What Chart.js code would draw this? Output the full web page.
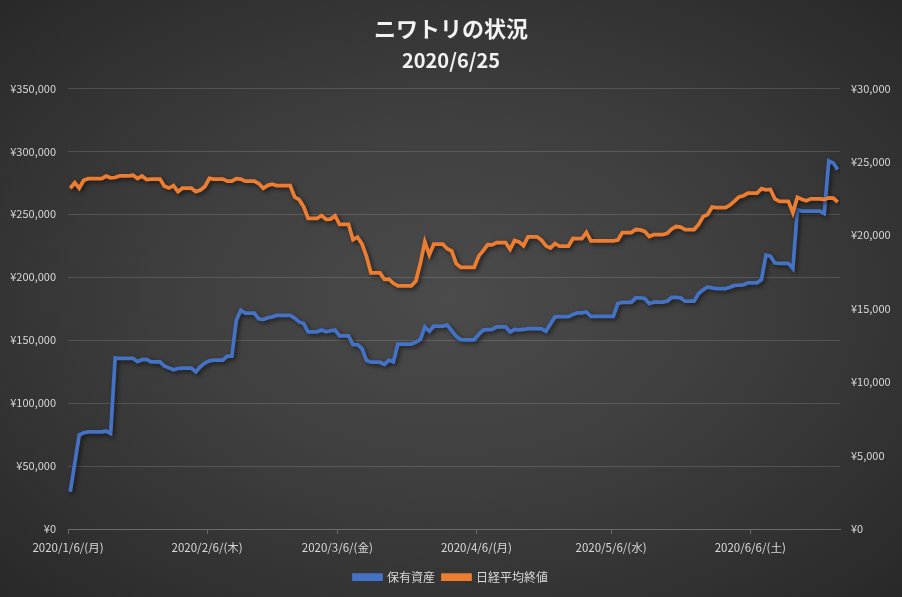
<!DOCTYPE html>
<html lang="ja">
<head>
<meta charset="utf-8">
<title>ニワトリの状況</title>
<script src="https://cdn.jsdelivr.net/npm/chart.js@4.4.1/dist/chart.umd.min.js"></script>
<style>
    html, body {
        margin: 0;
        padding: 0;
        background: #262626;
    }

    #wrap {
        width: 902px;
        height: 597px;
        background: radial-gradient(ellipse 75% 75% at 50% 50%, #4b4b4b 0%, #3f3f3f 40%, #262626 100%);
    }
</style>
</head>
<body>
<div id="wrap">
    <canvas id="chart"></canvas>
</div>

<script>
// daily values from 2020/1/6, non-trading days carry the last value
const startDate = "2020/1/6";

const assets = [
    // Jan 6-31
    29600, 52000, 74600, 76500, 77200, 77200, 77200, 77200, 77800, 75900,
    135800, 135500, 135500, 135500, 135500, 133000, 134500, 134700, 132800, 132800,
    132800, 129400, 128000, 126500, 127500, 127800,
    // Feb
    127800, 127800, 124800, 129000, 131800, 133600, 134100, 134100, 134100, 137300,
    137300, 165900, 173800, 171500, 171500, 171500, 167000, 166400, 167800, 168500,
    169600, 169600, 169600, 169600, 167500, 164500, 163300, 156600, 156600,
    // Mar
    156600, 158000, 156600, 157500, 158000, 153500, 153500, 153500, 146500, 146500,
    143400, 134000, 132500, 132500, 132500, 130700, 134100, 132800, 146800, 146800,
    146800, 146800, 148500, 150500, 160500, 157100, 161100, 161100, 161100, 161900,
    157500,
    // Apr
    153000, 150500, 150300, 150300, 150300, 154500, 158000, 158300, 158500, 160500,
    160500, 160500, 156600, 158500, 158200, 158500, 159200, 159200, 159200, 159000,
    157100, 163000, 168500, 168700, 168700, 168700, 170500, 171700, 171700, 172400,
    // May
    169000, 169000, 169000, 169000, 169000, 169000, 179100, 180000, 180000, 180000,
    183600, 183600, 183100, 179100, 180200, 180200, 180200, 181000, 184000, 184000,
    183600, 181000, 181000, 181000, 187000, 190000, 192300, 191500, 191000, 191000,
    191000,
    // Jun 1-25
    192000, 193500, 193700, 194000, 195500, 195500, 195500, 198000, 217500, 216700,
    211400, 211000, 211000, 211000, 206900, 253700, 252600, 252600, 252600, 252600,
    252600, 250600, 292300, 290700, 285500
];

const nikkei = [
    // Jan 6-31
    23204, 23575, 23204, 23739, 23850, 23850, 23850, 23850, 24025, 23916,
    23933, 24041, 24041, 24041, 24083, 23864, 24031, 23795, 23827, 23827,
    23827, 23343, 23215, 23379, 22977, 23205,
    // Feb
    23205, 23205, 22971, 23084, 23319, 23873, 23827, 23827, 23827, 23685,
    23685, 23861, 23827, 23687, 23687, 23687, 23523, 23193, 23400, 23479,
    23386, 23386, 23386, 23386, 22605, 22426, 21948, 21142, 21142,
    // Mar
    21142, 21344, 21082, 21100, 21329, 20749, 20749, 20749, 19698, 19867,
    19416, 18559, 17431, 17431, 17431, 17002, 17011, 16726, 16552, 16552,
    16552, 16552, 16887, 18092, 19546, 18664, 19389, 19389, 19389, 19084,
    18917,
    // Apr
    18065, 17818, 17820, 17820, 17820, 18576, 18950, 19353, 19345, 19498,
    19498, 19498, 19043, 19638, 19550, 19290, 19897, 19897, 19897, 19669,
    19280, 19137, 19429, 19262, 19262, 19262, 19783, 19771, 19771, 20193,
    // May
    19619, 19619, 19619, 19619, 19619, 19619, 19674, 20179, 20179, 20179,
    20390, 20366, 20267, 19914, 20037, 20037, 20037, 20133, 20433, 20595,
    20552, 20388, 20388, 20388, 20741, 21271, 21419, 21916, 21877, 21877,
    21877,
    // Jun 1-25
    22062, 22325, 22613, 22695, 22863, 22863, 22863, 23178, 23091, 23124,
    22472, 22305, 22305, 22305, 21530, 22582, 22455, 22355, 22478, 22478,
    22478, 22437, 22549, 22534, 22259
];

const tickLabels = [
    "2020/1/6/(月)",
    "2020/2/6/(木)",
    "2020/3/6/(金)",
    "2020/4/6/(月)",
    "2020/5/6/(水)",
    "2020/6/6/(土)"
];

const seriesNames = ["保有資産", "日経平均終値"];

function dayOffset(text) {

    const a = text.split("/").map(Number);
    const b = startDate.split("/").map(Number);

    return (Date.UTC(a[0], a[1] - 1, a[2]) - Date.UTC(b[0], b[1] - 1, b[2])) / 86400000;
}

const tickPos = tickLabels.map(t => dayOffset(t.split("/(")[0]));

// each day sits in the middle of its own slot, like Excel's date axis
function toPoints(values) {

    return values.map((v, i) => ({ x: i + 0.5, y: v }));
}

const yen = v => "¥" + v.toLocaleString("en-US");

const labelColor = "#d9d9d9";

Chart.defaults.font.family = '"Noto Sans CJK JP", "Noto Sans", sans-serif';
Chart.defaults.color = labelColor;

const lineShadow = {
    id: "lineShadow",

    beforeDatasetDraw(chart) {

        const ctx = chart.ctx;
        ctx.save();
        ctx.shadowColor = "rgba(0, 0, 0, 0.55)";
        ctx.shadowBlur = 4;
        ctx.shadowOffsetX = 2;
        ctx.shadowOffsetY = 2;
    },

    afterDatasetDraw(chart) {

        chart.ctx.restore();
    }
};

const chart = new Chart(
    document.getElementById("chart"),
    {
        type: "line",

        data: {
            datasets: [
                {
                    label: seriesNames[0],
                    data: toPoints(assets),
                    yAxisID: "y",
                    borderColor: "#4472C4",
                    backgroundColor: "#4472C4",
                    borderWidth: 3.75,
                    pointRadius: 0,
                    tension: 0,
                    order: 1
                },
                {
                    label: seriesNames[1],
                    data: toPoints(nikkei),
                    yAxisID: "y1",
                    borderColor: "#ED7D31",
                    backgroundColor: "#ED7D31",
                    borderWidth: 3.75,
                    pointRadius: 0,
                    tension: 0,
                    order: 0
                }
            ]
        },

        options: {
            responsive: true,
            maintainAspectRatio: false,
            animation: false,
            events: [],

            layout: {
                padding: { left: 0, right: 0, top: 0, bottom: 4 }
            },

            plugins: {
                title: {
                    display: true,
                    text: "ニワトリの状況",
                    color: "#f2f2f2",
                    font: { size: 22, weight: "bold" },
                    padding: { top: 15, bottom: 7 }
                },
                subtitle: {
                    display: true,
                    text: "2020/6/25",
                    color: "#f2f2f2",
                    font: { size: 20, weight: "bold" },
                    padding: { top: 0, bottom: 16 }
                },
                legend: {
                    position: "bottom",
                    labels: {
                        boxWidth: 27,
                        boxHeight: 4,
                        padding: 8,
                        color: labelColor,
                        font: { size: 12 },
                        sort: (a, b) => a.datasetIndex - b.datasetIndex
                    }
                },
                tooltip: { enabled: false }
            },

            scales: {
                x: {
                    type: "linear",
                    min: 0,
                    max: assets.length,
                    afterBuildTicks: scale => {
                        scale.ticks = tickPos.map(v => ({ value: v }));
                    },
                    afterFit: scale => {
                        scale.height = 34;
                    },
                    ticks: {
                        autoSkip: false,
                        maxRotation: 0,
                        padding: 7,
                        color: labelColor,
                        font: { size: 11.5 },
                        callback: value => tickLabels[tickPos.indexOf(value)]
                    },
                    grid: {
                        drawOnChartArea: false,
                        drawTicks: true,
                        tickLength: 5,
                        color: "#6a6a6a"
                    },
                    border: {
                        display: true,
                        color: "#6a6a6a"
                    }
                },
                y: {
                    position: "left",
                    min: 0,
                    max: 350000,
                    afterFit: scale => {
                        scale.width = 68;
                    },
                    ticks: {
                        stepSize: 50000,
                        padding: 12,
                        color: labelColor,
                        font: { size: 11 },
                        callback: yen
                    },
                    grid: {
                        drawTicks: false,
                        color: "rgba(255, 255, 255, 0.14)"
                    },
                    border: { display: false }
                },
                y1: {
                    position: "right",
                    min: 0,
                    max: 30000,
                    afterFit: scale => {
                        scale.width = 62;
                    },
                    ticks: {
                        stepSize: 5000,
                        padding: 11,
                        color: labelColor,
                        font: { size: 11 },
                        callback: yen
                    },
                    grid: {
                        display: false,
                        drawTicks: false
                    },
                    border: { display: false }
                }
            }
        },

        plugins: [lineShadow]
    }
);
</script>
</body>
</html>
